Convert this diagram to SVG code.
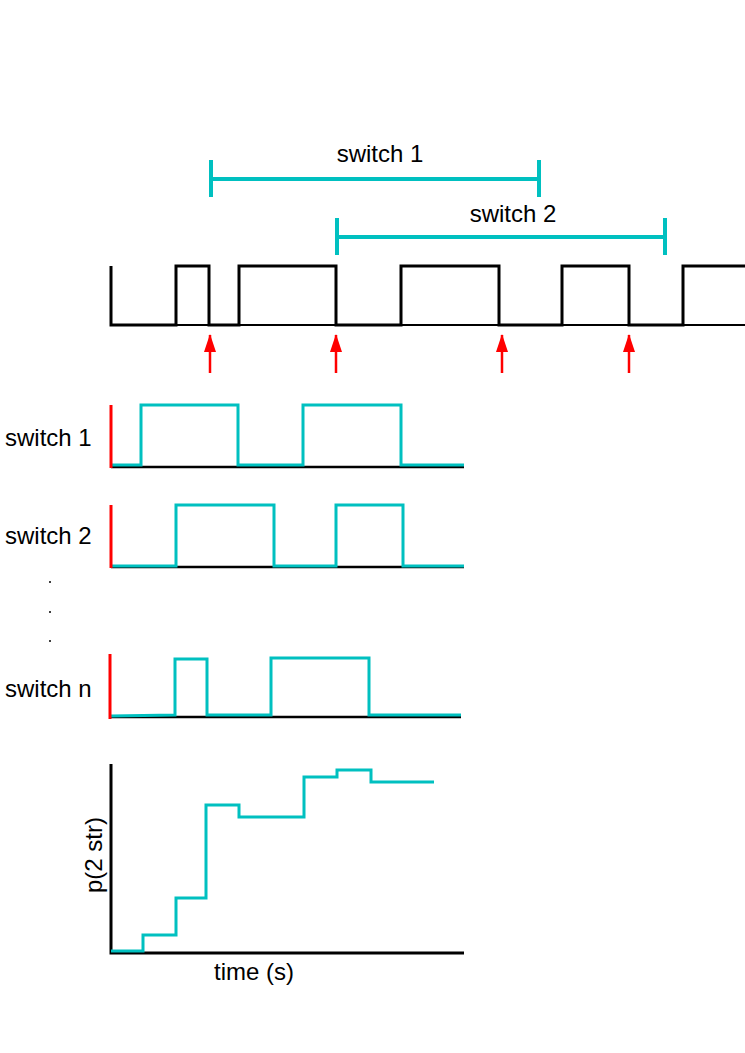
<svg xmlns="http://www.w3.org/2000/svg" width="745" height="1053" viewBox="0 0 745 1053">
<style>
text{font-family:"Liberation Sans",Arial,sans-serif;font-size:24px;fill:#000}
.blk{fill:none;stroke:#000;stroke-width:3}
.cy{fill:none;stroke:#00C0C0;stroke-width:3}
.red{fill:none;stroke:#FF0000;stroke-width:3}
.arr{fill:none;stroke:#FF0000;stroke-width:2.5}
</style>
<defs>
<marker id="ah" viewBox="0 0 18 12" refX="17" refY="6" markerWidth="18" markerHeight="12" markerUnits="userSpaceOnUse" orient="auto">
<path d="M0,0 L18,6 L0,12 z" fill="#FF0000"/>
</marker>
</defs>
<rect width="745" height="1053" fill="#fff"/>
<g id="bracket-switch1">
<path class="cy" d="M211,179 H539 M211,160 V197 M539,160 V197" style="stroke-width:4"/>
<text x="380" y="162" text-anchor="middle">switch 1</text>
</g>
<g id="bracket-switch2">
<path class="cy" d="M337,237 H665 M337,218 V255 M665,218 V255" style="stroke-width:4"/>
<text x="513" y="222" text-anchor="middle">switch 2</text>
</g>
<g id="top-signal">
<line x1="111" y1="325" x2="745" y2="325" stroke="#000" stroke-width="2"/>
<path class="blk" d="M111,266 V325 H176 V266 H209 V325 H239 V266 H336 V325 H401 V266 H499 V325 H562 V266 H629 V325 H683 V266 H745"/>
</g>
<g id="connectors">
<line class="arr" x1="210" y1="373" x2="210" y2="335" marker-end="url(#ah)"/>
<line class="arr" x1="336" y1="373" x2="336" y2="335" marker-end="url(#ah)"/>
<line class="arr" x1="502" y1="373" x2="502" y2="335" marker-end="url(#ah)"/>
<line class="arr" x1="629" y1="373" x2="629" y2="335" marker-end="url(#ah)"/>
</g>
<g id="switch1">
<text x="5" y="446">switch 1</text>
<line x1="111" y1="467" x2="464" y2="467" stroke="#000" stroke-width="2.5"/>
<path class="cy" d="M111,465 H141 V405 H238 V465 H303 V405 H401 V465 H464"/>
<line class="red" x1="111" y1="405" x2="111" y2="468"/>
</g>
<g id="switch2">
<text x="5" y="544">switch 2</text>
<line x1="111" y1="567" x2="464" y2="567" stroke="#000" stroke-width="2.5"/>
<path class="cy" d="M111,566 H176 V505 H274 V566 H336 V505 H403 V566 H464"/>
<line class="red" x1="111" y1="505" x2="111" y2="568"/>
</g>
<g id="dots" fill="#000">
<circle cx="50" cy="582" r="1"/>
<circle cx="50" cy="612" r="1"/>
<circle cx="50" cy="641" r="1"/>
</g>
<g id="switchn">
<text x="5" y="697">switch n</text>
<line x1="111" y1="717" x2="461" y2="717" stroke="#000" stroke-width="2.5"/>
<path class="cy" d="M111,716 L175,715 V659 H207 V715 H271 V658 H369 V715 H461"/>
<line class="red" x1="110" y1="654" x2="110" y2="719"/>
</g>
<g id="prob-chart">
<path class="blk" d="M111,764 V953 H464"/>
<path class="cy" d="M111,951 H143 V935 H176 V898 H206 V805 H239 V817 H304 V777 H337 V770 H371 V782 H434"/>
<text x="254" y="980" text-anchor="middle">time (s)</text>
<text transform="translate(102,855) rotate(-90)" text-anchor="middle">p(2 str)</text>
</g>
</svg>
